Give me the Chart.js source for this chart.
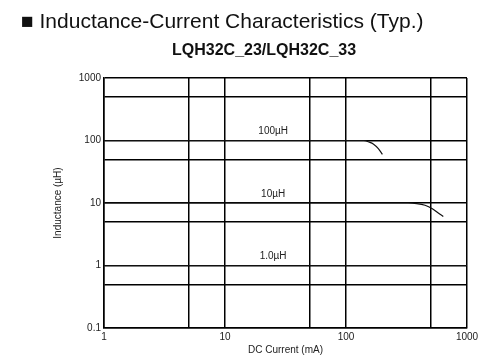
<!DOCTYPE html>
<html>
<head>
<meta charset="utf-8">
<script src="https://cdn.jsdelivr.net/npm/chart.js@4"></script>
<style>
body{margin:0;background:#fff;font-family:"Liberation Sans",Arial,sans-serif;}
#wrap{position:relative;width:499px;height:359px;}
#title{position:absolute;left:21px;top:9px;font-size:21px;color:#111;white-space:nowrap;}
#sub{position:absolute;left:172px;top:41px;font-size:16px;font-weight:bold;color:#111;white-space:nowrap;}
canvas{position:absolute;left:0;top:0;}
</style>
</head>
<body>
<div id="wrap">
<canvas id="c" width="499" height="359"></canvas>
<div id="title">&#9632; Inductance-Current Characteristics (Typ.)</div>
<div id="sub">LQH32C_23/LQH32C_33</div>
</div>
<script>
// DC current (mA) / inductance (uH)
var cur100 = [1, 140, 156, 168, 185, 200];
var ind100 = [100, 100, 94, 88, 74, 60];
var cur10 = [1, 325, 384, 450, 517, 579, 637];
var ind10 = [10, 10, 9.8, 9.2, 8.1, 6.9, 6.1];
var cur1 = [1, 1000];
var ind1 = [1, 1];

var curveNames = ['100µH', '10µH', '1.0µH'];
var nameAt = 25; // mA, where the names sit

var xTicks = [1, 5, 10, 50, 100, 500, 1000];
var xLabels = [1, 10, 100, 1000];
var yTicks = [0.1, 0.5, 1, 5, 10, 50, 100, 500, 1000];
var yLabels = [0.1, 1, 10, 100, 1000];

function pts(xs, ys){
	var out = [];
	for (var i = 0; i < xs.length; i++) out.push({x: xs[i], y: ys[i]});
	return out;
}

var font = {family: '"Liberation Sans", Arial, sans-serif', size: 10};

var names = {
	id: 'names',
	afterDatasetsDraw: function(chart){
		var ctx = chart.ctx;
		var lv = [100, 10, 1];
		ctx.save();
		ctx.fillStyle = '#222';
		ctx.font = '10px "Liberation Sans", Arial, sans-serif';
		ctx.textAlign = 'center';
		ctx.textBaseline = 'bottom';
		for (var i = 0; i < curveNames.length; i++){
			var x = chart.scales.x.getPixelForValue(nameAt);
			var y = chart.scales.y.getPixelForValue(lv[i]);
			ctx.fillText(curveNames[i], x, y - 4);
		}
		ctx.restore();
	}
};

function ds(xs, ys){
	return {
		data: pts(xs, ys),
		borderColor: '#111',
		borderWidth: 1.2,
		pointRadius: 0,
		fill: false,
		cubicInterpolationMode: 'monotone'
	};
}

new Chart(document.getElementById('c').getContext('2d'), {
	type: 'line',
	data: {
		datasets: [ds(cur100, ind100), ds(cur10, ind10), ds(cur1, ind1)]
	},
	options: {
		responsive: false,
		animation: false,
		layout: {padding: {top: 78, right: 32, bottom: 3, left: 52}},
		plugins: {legend: {display: false}, tooltip: {enabled: false}},
		scales: {
			x: {
				type: 'logarithmic',
				min: 1, max: 1000,
				afterBuildTicks: function(s){ s.ticks = xTicks.map(function(v){ return {value: v}; }); },
				afterFit: function(s){ s.height = 28; },
				ticks: {
					autoSkip: false, maxRotation: 0, padding: 3, color: '#222', font: font,
					callback: function(v){ return xLabels.indexOf(v) >= 0 ? String(v) : ''; }
				},
				grid: {color: '#000', lineWidth: 1.5, drawTicks: false},
				border: {color: '#000', width: 1.5},
				title: {display: true, text: 'DC Current (mA)', color: '#222', font: font, padding: 0}
			},
			y: {
				type: 'logarithmic',
				min: 0.1, max: 1000,
				afterBuildTicks: function(s){ s.ticks = yTicks.map(function(v){ return {value: v}; }); },
				afterFit: function(s){ s.width = 52; },
				ticks: {
					autoSkip: false, padding: 3, color: '#222', font: font,
					callback: function(v){ return yLabels.indexOf(v) >= 0 ? String(v) : ''; }
				},
				grid: {color: '#000', lineWidth: 1.5, drawTicks: false},
				border: {color: '#000', width: 1.5},
				title: {display: true, text: 'Inductance (µH)', color: '#222', font: font, padding: 0}
			}
		}
	},
	plugins: [names]
});
</script>
</body>
</html>
